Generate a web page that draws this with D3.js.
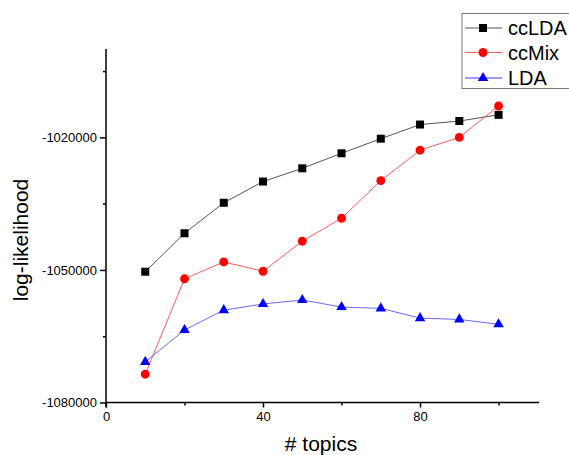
<!DOCTYPE html>
<html><head><meta charset="utf-8">
<script src="https://cdn.jsdelivr.net/npm/d3@7"></script>
<style>body{margin:0;background:#fff}svg{display:block}text{font-family:Arial,"Liberation Sans",sans-serif}</style>
</head><body><svg id="c" width="569" height="455"></svg>
<script>
const topics = [10,20,30,40,50,60,70,80,90,100];
const ccLDA = [-1050400,-1041700,-1034800,-1030000,-1027000,-1023600,-1020300,-1017100,-1016300,-1014900];
const ccMix = [-1073600,-1052000,-1048200,-1050300,-1043500,-1038300,-1029800,-1022900,-1020000,-1012900];
const LDA   = [-1070800,-1063600,-1059100,-1057700,-1056800,-1058400,-1058700,-1060900,-1061200,-1062300];
const seriesNames = ["ccLDA","ccMix","LDA"];
const xMajor = [0,40,80], xMinor = [20,60,100];
const yMajor = [-1080000,-1050000,-1020000], yMinor = [-1065000,-1035000,-1005000];

const svg = d3.select("#c");
const x = d3.scaleLinear().domain([0,110.3]).range([106,539]);
const y = d3.scaleLinear().domain([-1080000,-1000000]).range([402.5,49]);
const fmt = d => String(d).replace("\u2212","-");

const styles = [
  {data:ccLDA, line:"#555", fill:"#000", sym:d3.symbolSquare, size:64},
  {data:ccMix, line:"#ff5a5a", fill:"#ff0000", sym:d3.symbolCircle, size:62},
  {data:LDA, line:"#6b6bff", fill:"#0000ff", sym:d3.symbolTriangle, size:48}
];

// axes
const gx = svg.append("g").attr("transform","translate(0,402.5)");
gx.call(d3.axisBottom(x).tickValues(xMajor).tickSize(5).tickSizeOuter(0).tickPadding(4).tickFormat(fmt));
gx.select(".domain").attr("d",`M${x(0)},0H539`);
gx.selectAll("text").attr("font-size","13px").attr("font-family","Arial, Liberation Sans, sans-serif");
const gx2 = svg.append("g").attr("transform","translate(0,402.5)");
gx2.call(d3.axisBottom(x).tickValues(xMinor).tickSize(3).tickFormat(""));
gx2.select(".domain").remove();

const gy = svg.append("g").attr("transform","translate(106,0)");
gy.call(d3.axisLeft(y).tickValues(yMajor).tickSize(6).tickSizeOuter(0).tickPadding(3).tickFormat(fmt));
gy.select(".domain").attr("d",`M0,${y(-1000000)}V407.5`);
gy.selectAll("text").attr("font-size","13px").attr("font-family","Arial, Liberation Sans, sans-serif");
const gy2 = svg.append("g").attr("transform","translate(106,0)");
gy2.call(d3.axisLeft(y).tickValues(yMinor).tickSize(3).tickFormat(""));
gy2.select(".domain").remove();
svg.selectAll(".domain, .tick line").attr("stroke","#000").attr("stroke-width",1.5);

// titles
svg.append("text").attr("x",321).attr("y",451).attr("text-anchor","middle").attr("font-size","21px").text("# topics");
svg.append("text").attr("transform","translate(28,240) rotate(-90)").attr("text-anchor","middle").attr("font-size","21px").text("log-likelihood");

// series
const line = d3.line().x((d,i)=>x(topics[i])).y(d=>y(d));
styles.forEach(s=>{
  svg.append("path").attr("d",line(s.data)).attr("fill","none").attr("stroke",s.line).attr("stroke-width",1);
  svg.selectAll(null).data(s.data).enter().append("path")
    .attr("transform",(d,i)=>`translate(${x(topics[i])},${y(d)})`)
    .attr("d",d3.symbol().type(s.sym).size(s.size)()).attr("fill",s.fill);
});

// legend
const lg = svg.append("g");
lg.append("rect").attr("x",462).attr("y",13.5).attr("width",120).attr("height",75).attr("fill","#fff").attr("stroke","#777").attr("stroke-width",1);
const rows = [28,52.5,78];
styles.forEach((s,i)=>{
  lg.append("line").attr("x1",465).attr("x2",502).attr("y1",rows[i]).attr("y2",rows[i]).attr("stroke",i==2?"#9a9aff":s.line).attr("stroke-width",i==2?2:1);
  lg.append("path").attr("transform",`translate(483,${rows[i]})`).attr("d",d3.symbol().type(s.sym).size(s.size)()).attr("fill",s.fill);
  lg.append("text").attr("x",508).attr("y",rows[i]+7).attr("font-size","20px").text(seriesNames[i]);
});
</script></body></html>
